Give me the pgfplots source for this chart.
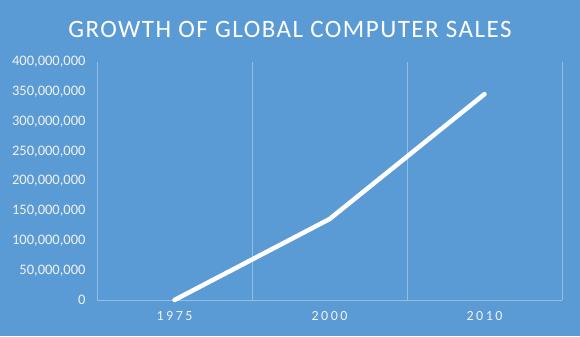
\documentclass[border=0pt]{standalone}
\usepackage{pgfplots}
\pgfplotsset{compat=1.18}
\usepackage{fontspec}
\setmainfont{Carlito}
\newfontfamily\spaced[LetterSpace=6]{Carlito}
\newfontfamily\spacedx[LetterSpace=18]{Carlito}
\definecolor{bg}{RGB}{91,155,213}
\definecolor{txt}{RGB}{242,242,242}
\colorlet{gridc}{white!35!bg}
\begin{document}
\begin{tikzpicture}[x=1bp,y=1bp]
\fill[bg] (0,0) rectangle (580,336);
\node[text=white,font=\fontsize{25bp}{28bp}\selectfont\spaced] at (290,307) {GROWTH OF GLOBAL COMPUTER SALES};
\begin{axis}[
  at={(97bp,36bp)}, anchor=south west,
  scale only axis, width=465bp, height=238bp,
  xmin=-0.5, xmax=2.5, ymin=0, ymax=400000000,
  xtick={0,1,2}, xticklabels={1975,2000,2010},
  minor xtick={-0.5,0.5,1.5,2.5},
  minor x grid style={gridc, line width=0.8bp},
  xminorgrids=true,
  extra y ticks={0}, extra y tick style={grid=major, major grid style={gridc, line width=0.8bp}, tick style={draw=none}, yticklabels={}},
  ytick={0,50000000,...,400000000},
  scaled y ticks=false,
  /pgf/number format/assume math mode=true,
  yticklabel style={/pgf/number format/fixed, /pgf/number format/1000 sep={,}, font=\fontsize{14.5bp}{16bp}\selectfont, text=txt},
  xticklabel style={font=\fontsize{14bp}{16bp}\selectfont\spacedx, text=txt},
  axis line style={draw=none},
  tick style={draw=none},
  minor tick style={draw=none},
  yticklabel style={xshift=-8bp},
  xticklabel style={yshift=-8bp},
  clip=false,
]
\addplot[white, line width=4.5bp, line cap=round, line join=round] coordinates {(0,0) (1,136000000) (2,346000000)};
\end{axis}
\end{tikzpicture}
\end{document}
